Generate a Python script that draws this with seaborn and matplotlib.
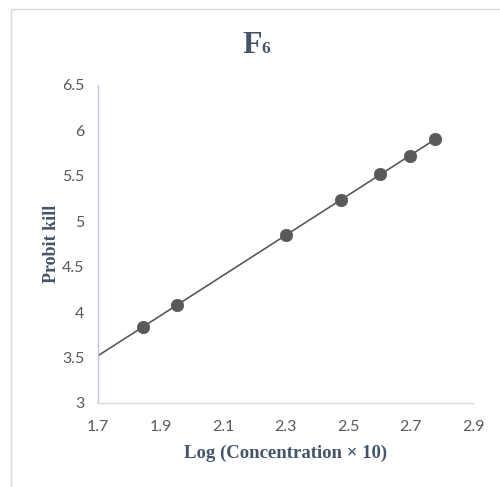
import numpy as np
import pandas as pd
import matplotlib
matplotlib.use("Agg")
import matplotlib.pyplot as plt
import seaborn as sns
from matplotlib.patches import Rectangle

# Probit analysis data for F6
log_conc = [1.845, 1.954, 2.301, 2.477, 2.602, 2.699, 2.778]
probit_kill = [3.84, 4.08, 4.85, 5.23, 5.52, 5.72, 5.90]
x_ticks = [1.7, 1.9, 2.1, 2.3, 2.5, 2.7, 2.9]
y_ticks = [3, 3.5, 4, 4.5, 5, 5.5, 6, 6.5]

df = pd.DataFrame({"x": log_conc, "y": probit_kill})

# Linear trend line, extended back to the axis origin
slope, intercept = np.polyfit(df["x"], df["y"], 1)
trend_x = np.array([x_ticks[0], max(log_conc)])
trend = pd.DataFrame({"x": trend_x, "y": slope * trend_x + intercept})

sns.set_theme(style="white")
plt.rcParams["font.family"] = ["Lato", "DejaVu Sans"]

fig = plt.figure(figsize=(5.0, 4.87), dpi=100)
ax = fig.add_axes([0.196, 0.1725, 0.75, 0.653])

grey = "#595959"
sns.lineplot(data=trend, x="x", y="y", ax=ax, color=grey, linewidth=1.2)
sns.scatterplot(data=df, x="x", y="y", ax=ax, color=grey, s=80,
                edgecolor=grey, linewidth=0.5, zorder=3)

ax.set_xlim(x_ticks[0], x_ticks[-1])
ax.set_ylim(y_ticks[0], y_ticks[-1])
ax.set_xticks(x_ticks)
ax.set_yticks(y_ticks)
ax.set_xticklabels([f"{t:g}" for t in x_ticks])
ax.set_yticklabels([f"{t:g}" for t in y_ticks])
ax.tick_params(axis="both", length=0, labelsize=11.5, colors=grey)
ax.tick_params(axis="x", pad=12)
ax.tick_params(axis="y", pad=10)

for side in ("top", "right"):
    ax.spines[side].set_visible(False)
ax.spines["bottom"].set_color("#D9D9D9")
ax.spines["left"].set_color("#BCC6D6")
ax.spines["bottom"].set_linewidth(1.0)
ax.spines["left"].set_linewidth(1.0)

label_color = "#44546A"
serif = ["Liberation Serif", "DejaVu Serif"]
ax.set_xlabel("Log (Concentration × 10)", family=serif, fontweight="bold",
              fontsize=13.5, color=label_color, labelpad=8)
ax.set_ylabel("Probit kill", family=serif, fontweight="bold",
              fontsize=13, color=label_color, labelpad=1)

# Title: large F with a smaller 6
fig.text(0.485, 0.891, "F", family=serif, fontweight="bold", fontsize=23,
         color=label_color, ha="left", va="baseline")
fig.text(0.523, 0.891, "6", family=serif, fontweight="bold", fontsize=12.5,
         color=label_color, ha="left", va="baseline")

# Chart frame
fig.patches.append(Rectangle((11 / 500, -0.1), 1.2, 1 - 9 / 487 + 0.1,
                             transform=fig.transFigure, fill=False,
                             edgecolor="#D9D9D9", linewidth=1.0))

fig.savefig("out.png", dpi=100)
